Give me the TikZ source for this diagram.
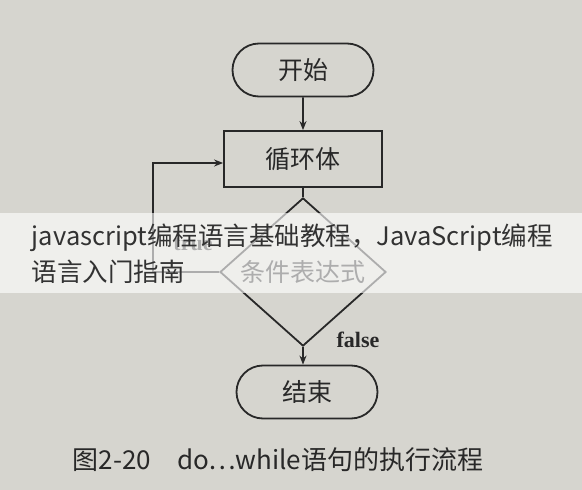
\documentclass[tikz,border=0pt]{standalone}
\usepackage{fontspec}
\setmainfont{Noto Sans CJK SC}
\newfontfamily\cjk{Noto Sans CJK SC}
\newfontfamily\labelserif{Liberation Serif}
\usetikzlibrary{shapes.geometric,shapes.misc,arrows.meta}
\definecolor{paper}{RGB}{214,213,207}
\definecolor{ink}{RGB}{40,40,40}
\definecolor{bannertext}{RGB}{50,50,50}
\begin{document}
\begin{tikzpicture}[x=1pt,y=-1pt,
  line width=1.8pt,
  terminal/.style={draw=ink,rounded rectangle,minimum width=141pt,minimum height=53pt,inner sep=0pt,font=\cjk\fontsize{25}{27}\selectfont,text=ink},
  process/.style={draw=ink,rectangle,minimum width=158pt,minimum height=56pt,inner sep=0pt,font=\cjk\fontsize{25}{27}\selectfont,text=ink},
  decision/.style={draw=ink,diamond,minimum width=166pt,minimum height=96pt,inner sep=0pt,font=\cjk\fontsize{25}{27}\selectfont,text=ink},
  arr/.style={draw=ink,-{Stealth[length=9pt,width=7pt]}},
  flowlabel/.style={font=\labelserif\bfseries\fontsize{22}{24}\selectfont,text=ink},
  bannerline/.style={font=\cjk\fontsize{25.5}{28}\selectfont,text=bannertext,anchor=west,inner sep=0pt},
  caption/.style={font=\cjk\fontsize{26}{28}\selectfont,text=ink,inner sep=0pt}
]
\useasboundingbox (0,0) rectangle (582,490);
\fill[paper] (0,0) rectangle (582,490);
\node[terminal] (start) at (303,70) {开始};
\node[process] (body) at (303,159) {循环体};
\node[decision] (cond) at (303,272) {条件表达式};
\node[terminal] (end) at (307,392) {结束};
\coordinate (bl) at (153,272);
\coordinate (tl) at (153,163);
\draw[arr] (start) -- (body);
\draw[ink] (body.south) -- (cond.north);
\draw[arr] (cond.west) -- (bl) -- (tl) -- (body.west |- tl);
\draw[arr] (cond.south) -- (cond.south |- end.north);
\node[flowlabel] (tlabel) at (193,244) {true};
\node[flowlabel] (flabel) at (358,340) {false};
% banner overlay
\fill[white,opacity=0.62] (0,213) rectangle (582,293);
\node[bannerline] (b1) at (31,238) {javascript编程语言基础教程，JavaScript编程};
\node[bannerline] (b2) at (31,272) {语言入门指南};
% caption
\node[caption] (cap) at (278,460) {图2-20\hspace{26pt}do…while语句的执行流程};
\end{tikzpicture}
\end{document}
